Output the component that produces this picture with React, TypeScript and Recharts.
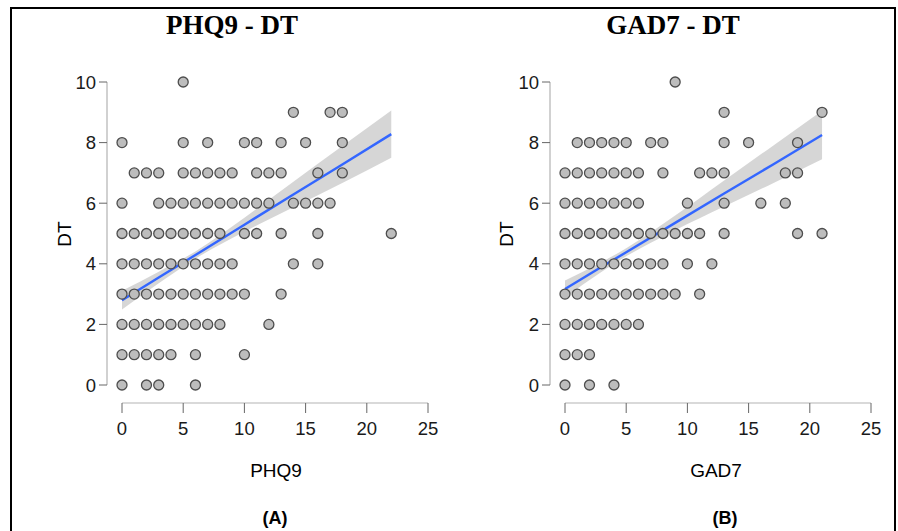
import React from 'react';
import { ComposedChart, Scatter, Area, Line, XAxis, YAxis, ReferenceLine } from 'recharts';

// tick labels
const xTicks = [0, 5, 10, 15, 20, 25];
const yTicks = [0, 2, 4, 6, 8, 10];

// PHQ9 values for each DT level (index = DT score)
const phqByDT: number[][] = [
  [0, 2, 3, 6],
  [0, 1, 2, 3, 4, 6, 10],
  [0, 1, 2, 3, 4, 5, 6, 7, 8, 12],
  [0, 1, 2, 3, 4, 5, 6, 7, 8, 9, 10, 13],
  [0, 1, 2, 3, 4, 5, 6, 7, 8, 9, 14, 16],
  [0, 1, 2, 3, 4, 5, 6, 7, 8, 10, 11, 13, 16, 22],
  [0, 3, 4, 5, 6, 7, 8, 9, 10, 11, 12, 14, 15, 16, 17],
  [1, 2, 3, 5, 6, 7, 8, 9, 11, 12, 13, 16, 18],
  [0, 5, 7, 10, 11, 13, 15, 18],
  [14, 17, 18],
  [5],
];

// GAD7 values for each DT level (index = DT score)
const gadByDT: number[][] = [
  [0, 2, 4],
  [0, 1, 2],
  [0, 1, 2, 3, 4, 5, 6],
  [0, 1, 2, 3, 4, 5, 6, 7, 8, 9, 11],
  [0, 1, 2, 3, 4, 5, 6, 7, 8, 10, 12],
  [0, 1, 2, 3, 4, 5, 6, 7, 8, 9, 10, 11, 13, 19, 21],
  [0, 1, 2, 3, 4, 5, 6, 10, 13, 16, 18],
  [0, 1, 2, 3, 4, 5, 6, 8, 11, 12, 13, 18, 19],
  [1, 2, 3, 4, 5, 7, 8, 13, 15, 19],
  [13, 21],
  [9],
];

// fitted line and confidence band
const phqFitX = [0, 3, 6, 10, 14, 18, 22];
const phqFit = [2.8, 3.55, 4.29, 5.29, 6.29, 7.28, 8.28];
const phqLo = [2.49, 3.36, 4.17, 5.06, 5.87, 6.67, 7.5];
const phqHi = [3.11, 3.74, 4.41, 5.52, 6.71, 7.89, 9.06];

const gadFitX = [0, 3, 5, 9, 13, 17, 21];
const gadFit = [3.17, 3.9, 4.38, 5.35, 6.32, 7.28, 8.25];
const gadLo = [2.89, 3.74, 4.25, 5.11, 5.89, 6.66, 7.45];
const gadHi = [3.45, 4.06, 4.51, 5.59, 6.75, 7.9, 9.05];

const X_MIN = -15 / 12.24;
const X_MAX = 25 + 12 / 12.24;
const Y_MIN = -18 / 30.3;
const Y_MAX = 10 + 12 / 30.3;

const SANS = '"Liberation Sans", Arial, sans-serif';
const SERIF = '"Liberation Serif", "Times New Roman", serif';

const Dot = (props: any) => {
  const { cx, cy } = props;
  if (cx == null || cy == null) return null;
  return <circle cx={cx} cy={cy} r={5} fill="#bdbdbd" stroke="#4d4d4d" strokeWidth={1.3} />;
};

function Panel({ byDT, fx, fit, lo, hi }: { byDT: number[][]; fx: number[]; fit: number[]; lo: number[]; hi: number[] }) {
  const points = byDT.flatMap((xs, dt) => xs.map((x) => ({ x, y: dt })));
  const band = fx.map((x, i) => ({ x, fit: fit[i], band: [lo[i], hi[i]] }));
  const tickStyle = { fill: '#1a1a1a', fontSize: 18.5, fontFamily: SANS };
  return (
    <ComposedChart width={450} height={531} data={band} margin={{ top: 70, right: 10, bottom: 98, left: 0 }}>
      <XAxis
        type="number"
        dataKey="x"
        domain={[X_MIN, X_MAX]}
        allowDataOverflow
        ticks={xTicks}
        axisLine={false}
        tickLine={{ stroke: '#666', strokeWidth: 1 }}
        tickSize={10}
        tickMargin={9}
        tick={tickStyle}
        height={30}
      />
      <YAxis
        type="number"
        dataKey="y"
        domain={[Y_MIN, Y_MAX]}
        allowDataOverflow
        ticks={yTicks}
        axisLine={false}
        tickLine={{ stroke: '#666', strokeWidth: 1 }}
        tickSize={8}
        tickMargin={3}
        tick={tickStyle}
        width={107}
      />
      <ReferenceLine segment={[{ x: 0, y: Y_MIN }, { x: 25, y: Y_MIN }]} stroke="#b3b3b3" strokeWidth={1.2} ifOverflow="visible" />
      <ReferenceLine segment={[{ x: X_MIN, y: 0 }, { x: X_MIN, y: 10 }]} stroke="#b3b3b3" strokeWidth={1.2} ifOverflow="visible" />
      <Scatter data={points} dataKey="y" shape={Dot} isAnimationActive={false} />
      <Area type="monotone" dataKey="band" fill="#999999" fillOpacity={0.4} stroke="none" isAnimationActive={false} />
      <Line type="linear" dataKey="fit" stroke="#3366ff" strokeWidth={2.4} dot={false} isAnimationActive={false} />
    </ComposedChart>
  );
}

const textBase: React.CSSProperties = { position: 'absolute', whiteSpace: 'nowrap', lineHeight: 1, color: '#000' };

export default function App() {
  return (
    <div style={{ position: 'fixed', left: 0, top: 0, width: 898, height: 531, background: '#fff', overflow: 'hidden' }}>
      <div style={{ position: 'absolute', left: 10, top: 7, width: 882, height: 540, border: '2px solid #000' }} />
      <div style={{ position: 'absolute', left: 0, top: 0 }}>
        <Panel byDT={phqByDT} fx={phqFitX} fit={phqFit} lo={phqLo} hi={phqHi} />
      </div>
      <div style={{ position: 'absolute', left: 443, top: 0 }}>
        <Panel byDT={gadByDT} fx={gadFitX} fit={gadFit} lo={gadLo} hi={gadHi} />
      </div>
      <div style={{ ...textBase, left: 232, top: 12, transform: 'translateX(-50%)', fontFamily: SERIF, fontWeight: 'bold', fontSize: 27 }}>PHQ9 - DT</div>
      <div style={{ ...textBase, left: 673, top: 12, transform: 'translateX(-50%)', fontFamily: SERIF, fontWeight: 'bold', fontSize: 27 }}>GAD7 - DT</div>
      <div style={{ ...textBase, left: 276, top: 461, transform: 'translateX(-50%)', fontFamily: SANS, fontSize: 19 }}>PHQ9</div>
      <div style={{ ...textBase, left: 716, top: 461, transform: 'translateX(-50%)', fontFamily: SANS, fontSize: 19 }}>GAD7</div>
      <div style={{ ...textBase, left: 64, top: 234, transform: 'translate(-50%, -50%) rotate(-90deg)', fontFamily: SANS, fontSize: 19 }}>DT</div>
      <div style={{ ...textBase, left: 506, top: 234, transform: 'translate(-50%, -50%) rotate(-90deg)', fontFamily: SANS, fontSize: 19 }}>DT</div>
      <div style={{ ...textBase, left: 275, top: 509, transform: 'translateX(-50%)', fontFamily: SANS, fontWeight: 'bold', fontSize: 18 }}>(A)</div>
      <div style={{ ...textBase, left: 725, top: 509, transform: 'translateX(-50%)', fontFamily: SANS, fontWeight: 'bold', fontSize: 18 }}>(B)</div>
    </div>
  );
}
